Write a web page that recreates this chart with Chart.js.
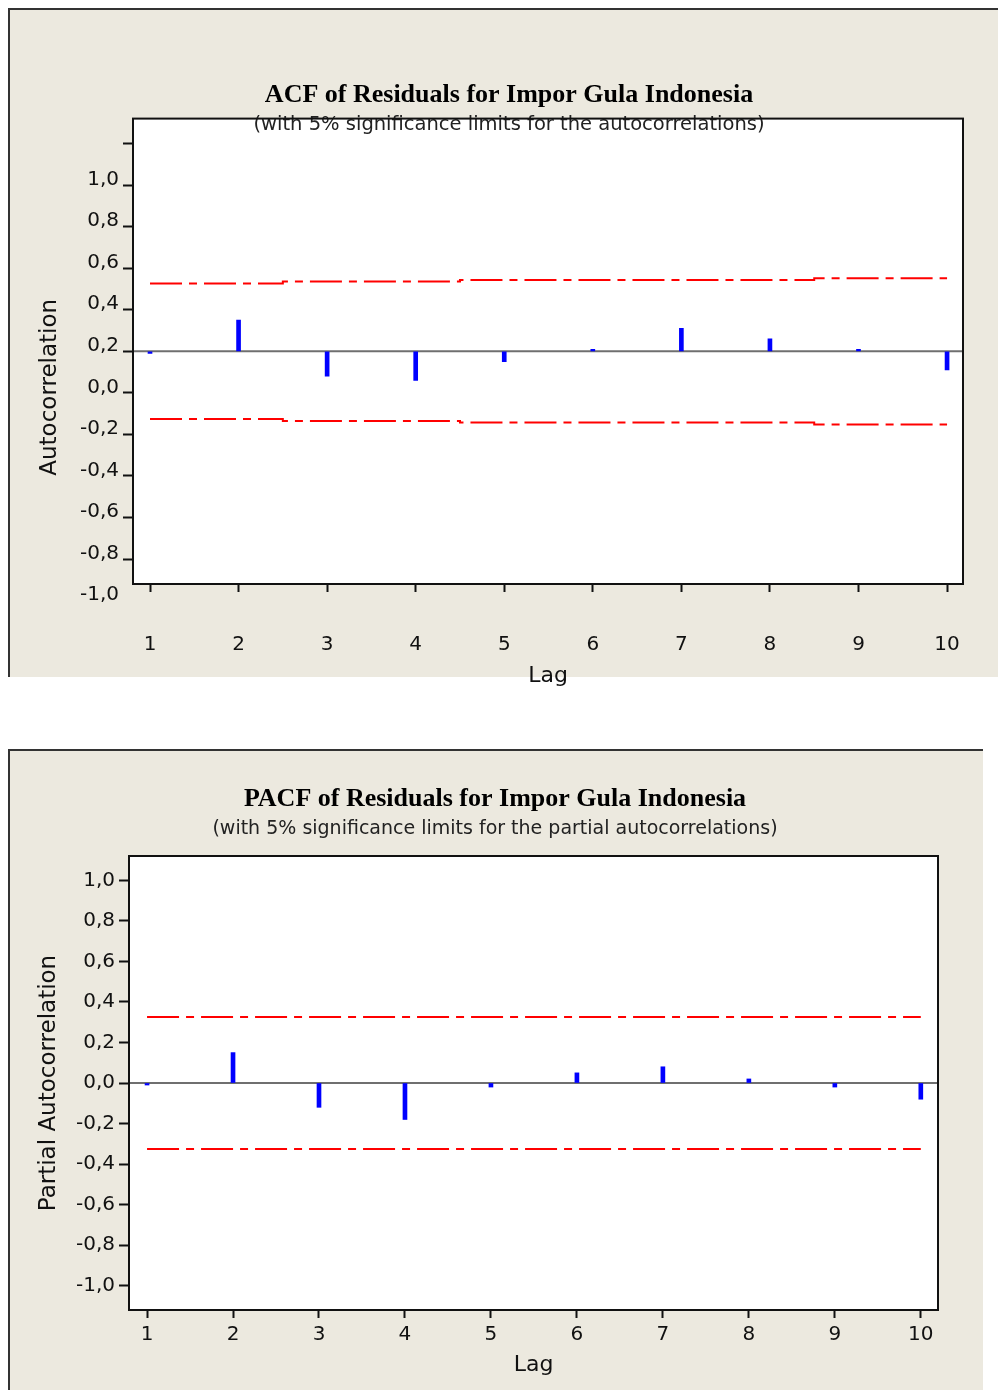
<!DOCTYPE html>
<html>
<head>
<meta charset="utf-8">
<title>ACF / PACF of Residuals for Impor Gula Indonesia</title>
<script src="https://cdn.jsdelivr.net/npm/chart.js@4.4.1/dist/chart.umd.min.js"></script>
<style>
  html, body { margin: 0; padding: 0; background: #fff; }
  body { position: relative; width: 998px; height: 1390px; overflow: hidden; }
  .panel {
    position: absolute;
    background: #ece9df;
    border-top: 2px solid #333;
    border-left: 2px solid #333;
    box-sizing: border-box;
  }
  #panelAcf  { left: 8px; top: 8px;   width: 990px; height: 669px; }
  #panelPacf { left: 8px; top: 749px; width: 975px; height: 641px; }
  .wrap { position: absolute; left: 0; width: 998px; }
  #wrapAcf  { top: 0;     height: 700px; }
  #wrapPacf { top: 740px; height: 650px; }
</style>
</head>
<body>
<div class="panel" id="panelAcf"></div>
<div class="panel" id="panelPacf"></div>
<div class="wrap" id="wrapAcf"><canvas id="acfChart"></canvas></div>
<div class="wrap" id="wrapPacf"><canvas id="pacfChart"></canvas></div>

<script>
// ============================================
// DATA
// ============================================
const lags = [1, 2, 3, 4, 5, 6, 7, 8, 9, 10];
const lagLabels = ['1', '2', '3', '4', '5', '6', '7', '8', '9', '10'];

const yTickValues = [-1.0, -0.8, -0.6, -0.4, -0.2, 0.0, 0.2, 0.4, 0.6, 0.8, 1.0];
const yTickLabels = ['-1,0', '-0,8', '-0,6', '-0,4', '-0,2', '0,0', '0,2', '0,4', '0,6', '0,8', '1,0'];

// autocorrelations and their 5% limits (per lag)
const acfValues = [-0.01, 0.15, -0.12, -0.14, -0.05, 0.01, 0.11, 0.06, 0.01, -0.09];
const acfLimits = [0.326, 0.326, 0.336, 0.336, 0.343, 0.343, 0.343, 0.343, 0.352, 0.352];

// partial autocorrelations and their 5% limits
const pacfValues = [-0.01, 0.15, -0.12, -0.18, -0.02, 0.05, 0.08, 0.02, -0.02, -0.08];
const pacfLimits = [0.326, 0.326, 0.326, 0.326, 0.326, 0.326, 0.326, 0.326, 0.326, 0.326];

// ============================================
// PLUGINS
// ============================================
const SANS = '"DejaVu Sans", Verdana, sans-serif';

// white plot area, zero reference line and black frame
const plotFrame = {
    id: 'plotFrame',
    beforeDraw(chart) {
        const { ctx, chartArea: a } = chart;
        ctx.save();
        ctx.fillStyle = '#ffffff';
        ctx.fillRect(a.left, a.top, a.right - a.left, a.bottom - a.top);
        ctx.restore();
    },
    beforeDatasetsDraw(chart) {
        const { ctx, chartArea: a } = chart;
        const y0 = chart.scales.y.getPixelForValue(0);
        ctx.save();
        ctx.strokeStyle = '#6f6f6f';
        ctx.lineWidth = 2;
        ctx.beginPath();
        ctx.moveTo(a.left, y0);
        ctx.lineTo(a.right, y0);
        ctx.stroke();
        ctx.restore();
    },
    afterDatasetsDraw(chart) {
        const { ctx, chartArea: a } = chart;
        ctx.save();
        ctx.strokeStyle = '#111111';
        ctx.lineWidth = 2;
        ctx.strokeRect(a.left, a.top, a.right - a.left, a.bottom - a.top);
        ctx.restore();
    }
};

// rotated y axis title (shifted like the tick labels in the source picture)
const yTitle = {
    id: 'yTitle',
    afterDraw(chart, args, opts) {
        const { ctx, chartArea: a } = chart;
        ctx.save();
        ctx.translate(opts.x, (a.top + a.bottom) / 2 + (opts.shift || 0));
        ctx.rotate(-Math.PI / 2);
        ctx.font = '23px ' + SANS;
        ctx.fillStyle = '#111111';
        ctx.textAlign = 'center';
        ctx.textBaseline = 'middle';
        ctx.fillText(opts.text, 0, 0);
        ctx.restore();
    }
};

// ============================================
// BUILD ONE CORRELOGRAM
// ============================================
function buildChart(canvasId, cfg) {
    const ctx = document.getElementById(canvasId).getContext('2d');
    const box = cfg.box;

    const config = {
        type: 'bar',
        data: {
            datasets: [
                {
                    type: 'bar',
                    label: cfg.seriesName,
                    data: lags.map((x, i) => ({ x: x, y: cfg.values[i] })),
                    backgroundColor: '#0000ff',
                    borderWidth: 0,
                    barThickness: 4,
                    order: 1
                },
                {
                    type: 'line',
                    label: 'Upper limit',
                    data: lags.map((x, i) => ({ x: x, y: cfg.limits[i] })),
                    borderColor: '#ff0000',
                    borderWidth: 2,
                    borderDash: [32, 7, 8, 7],
                    stepped: cfg.stepped,
                    pointRadius: 0,
                    fill: false,
                    order: 2
                },
                {
                    type: 'line',
                    label: 'Lower limit',
                    data: lags.map((x, i) => ({ x: x, y: -cfg.limits[i] })),
                    borderColor: '#ff0000',
                    borderWidth: 2,
                    borderDash: [32, 7, 8, 7],
                    stepped: cfg.stepped,
                    pointRadius: 0,
                    fill: false,
                    order: 2
                }
            ]
        },
        options: {
            responsive: true,
            maintainAspectRatio: false,
            devicePixelRatio: 1,
            animation: false,
            events: [],
            layout: { padding: box.padding },
            plugins: {
                legend: { display: false },
                tooltip: { enabled: false },
                title: {
                    display: true,
                    text: cfg.title,
                    color: '#000000',
                    font: { family: '"Liberation Serif", "Times New Roman", serif', size: 26, weight: 'bold' },
                    padding: { top: 0, bottom: 0 }
                },
                subtitle: {
                    display: true,
                    text: cfg.subtitle,
                    color: '#222222',
                    font: { family: SANS, size: box.subtitleSize },
                    padding: box.subtitlePadding
                },
                yTitle: { text: cfg.yTitle, x: box.yTitleX, shift: box.yTitleShift }
            },
            scales: {
                x: {
                    type: 'linear',
                    min: box.xMin,
                    max: box.xMax,
                    offset: false,
                    afterFit: (s) => { s.height = box.xHeight; },
                    afterBuildTicks: (s) => { s.ticks = lags.map(v => ({ value: v })); },
                    border: { display: false },
                    grid: {
                        offset: false,
                        drawOnChartArea: false,
                        drawTicks: true,
                        tickLength: 8,
                        tickColor: '#111111',
                        tickWidth: 2
                    },
                    ticks: {
                        autoSkip: false,
                        maxRotation: 0,
                        padding: 4,
                        color: '#111111',
                        // the line height pushes the lag labels down from the ticks
                        font: { family: SANS, size: 20, lineHeight: box.xLabelLineHeight },
                        callback: (v, i) => lagLabels[i]
                    },
                    title: {
                        display: true,
                        text: 'Lag',
                        color: '#111111',
                        font: { family: SANS, size: 22 },
                        padding: { top: 0, bottom: box.xTitlePad }
                    }
                },
                y: {
                    min: -1.12,
                    max: 1.12,
                    afterFit: (s) => { s.width = box.yWidth; },
                    afterBuildTicks: (s) => { s.ticks = yTickValues.map(v => ({ value: v })); },
                    border: { display: false },
                    grid: {
                        drawOnChartArea: false,
                        drawTicks: true,
                        tickLength: 10,
                        tickColor: '#111111',
                        tickWidth: 2
                    },
                    ticks: {
                        autoSkip: false,
                        padding: 4,
                        labelOffset: box.yLabelOffset,
                        color: '#111111',
                        font: { family: SANS, size: 20 },
                        callback: (v, i) => yTickLabels[i]
                    }
                }
            }
        },
        plugins: [plotFrame, yTitle]
    };

    return new Chart(ctx, config);
}

// ============================================
// RENDER BOTH PANELS
// ============================================
buildChart('acfChart', {
    seriesName: 'ACF',
    values: acfValues,
    limits: acfLimits,
    stepped: 'middle',
    title: 'ACF of Residuals for Impor Gula Indonesia',
    subtitle: '(with 5% significance limits for the autocorrelations)',
    yTitle: 'Autocorrelation',
    box: {
        padding: { top: 80, left: 55, right: 35, bottom: 0 },
        subtitleSize: 19.5,
        subtitlePadding: { top: 2, bottom: -18 },
        yWidth: 78,
        xHeight: 116,
        xMin: 0.808,
        xMax: 10.18,
        xLabelLineHeight: 4.9,
        xTitlePad: 11,
        yLabelOffset: 36,
        yTitleX: 50,
        yTitleShift: 36
    }
});

buildChart('pacfChart', {
    seriesName: 'PACF',
    values: pacfValues,
    limits: pacfLimits,
    stepped: false,
    title: 'PACF of Residuals for Impor Gula Indonesia',
    subtitle: '(with 5% significance limits for the partial autocorrelations)',
    yTitle: 'Partial Autocorrelation',
    box: {
        padding: { top: 44, left: 52, right: 60, bottom: 0 },
        subtitleSize: 19,
        subtitlePadding: { top: 2, bottom: 16 },
        yWidth: 77,
        xHeight: 80,
        xMin: 0.79,
        xMax: 10.2,
        xLabelLineHeight: 1.3,
        xTitlePad: 12,
        yLabelOffset: 0,
        yTitleX: 49,
        yTitleShift: 0
    }
});
</script>
</body>
</html>
